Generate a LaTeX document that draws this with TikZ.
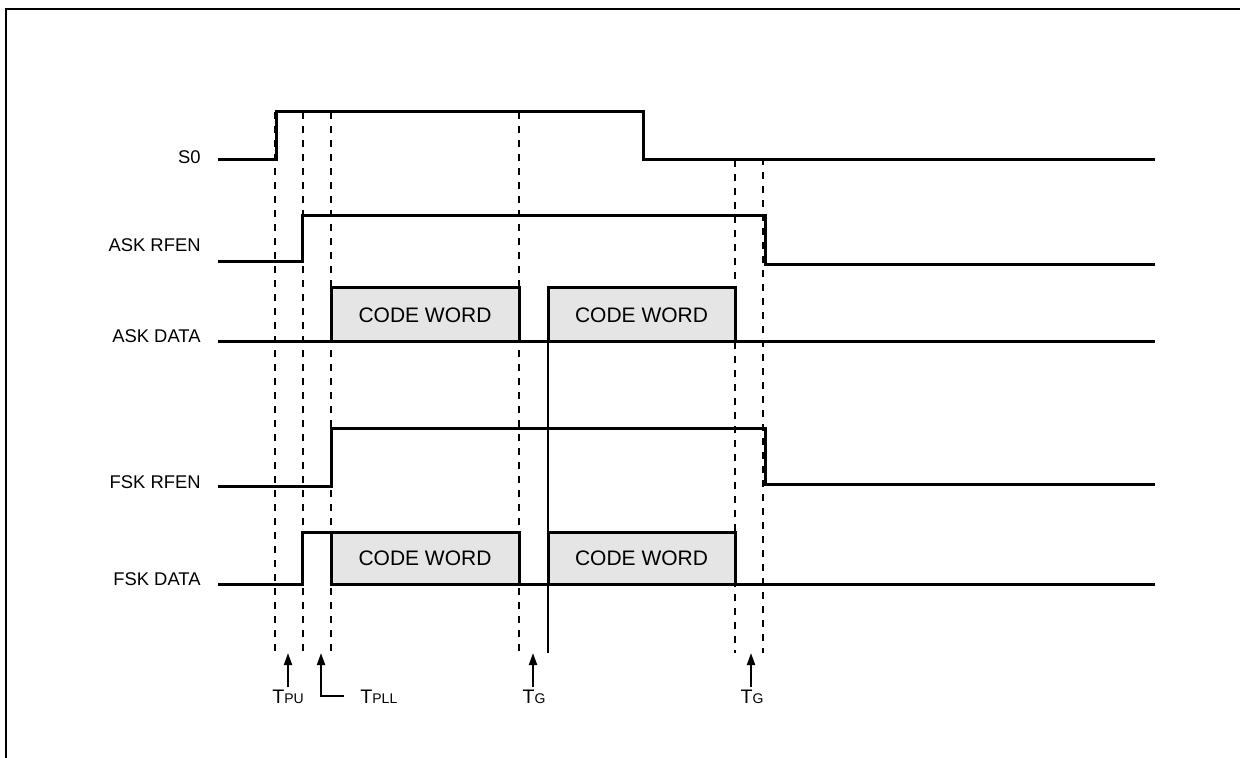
\documentclass[tikz,border=0pt]{standalone}
\usepackage{fontspec}
\setmainfont{Liberation Sans}
\usetikzlibrary{arrows.meta}
\begin{document}
\begin{tikzpicture}[x=0.5pt,y=-0.5pt,
  sig/.style={line width=1.5pt, line join=miter},
  guide/.style={line width=1pt, dash pattern=on 3.5pt off 3.5pt},
  frame/.style={line width=1pt},
  cw/.style={line width=1.5pt, fill=black!10},
  cwtext/.style={font=\fontsize{10.5}{12}\selectfont, inner sep=0pt},
  lbl/.style={font=\fontsize{9.2}{11}\selectfont, anchor=east, inner sep=0pt},
  tlbl/.style={font=\fontsize{9.8}{11}\selectfont, inner sep=0pt},
  marker/.style={line width=1pt, -{Triangle[length=6pt,width=4pt]}},
  sub/.style={}]
\useasboundingbox (0,0) rectangle (1240,758);
\draw[frame] (1240,9) -- (6,9) -- (6,758);

% signal labels
\node[lbl] (ls0) at (201,157) {S0};
\node[lbl] (laskrf) at (201,245) {ASK RFEN};
\node[lbl] (laskd) at (201,336) {ASK DATA};
\node[lbl] (lfskrf) at (201,482) {FSK RFEN};
\node[lbl] (lfskd) at (201,579) {FSK DATA};

% guides
\foreach \x/\t in {275/112, 303/112, 331/112, 519/112, 735/160, 763/158}
  \draw[guide] (\x,\t) -- (\x,653);

% S0
\draw[sig] (218,160) -- (276,160) -- (276,112) -- (643,112) -- (643,160) -- (1155,160);
% ASK RFEN
\draw[sig] (218,262) -- (302,262) -- (302,216) -- (765,216) -- (765,265) -- (1155,265);
% ASK DATA
\draw[sig] (218,342) -- (1155,342);
\draw[cw] (331,288) rectangle (519,342);
\draw[cw] (548,288) rectangle (735,342);
\node[cwtext] (acw1) at (425,315) {CODE WORD};
\node[cwtext] (acw2) at (641.5,315) {CODE WORD};
% FSK RFEN
\draw[sig] (218,486) -- (331,486) -- (331,428) -- (765,428) -- (765,484) -- (1155,484);
% FSK DATA
\draw[sig] (218,584) -- (302,584) -- (302,532) -- (331,532);
\draw[sig] (331,584) -- (1155,584);
\draw[cw] (331,532) rectangle (519,584);
\draw[cw] (548,532) rectangle (735,584);
\node[cwtext] (fcw1) at (425,558) {CODE WORD};
\node[cwtext] (fcw2) at (641.5,558) {CODE WORD};
% solid marker line
\draw[line width=1pt] (548,342) -- (548,653);

% timing labels
\node[tlbl] (tpu) at (288,697) {T{\fontsize{7}{8}\selectfont PU}};
\node[tlbl, anchor=west] (tpll) at (360,697) {T{\fontsize{7}{8}\selectfont PLL}};
\node[tlbl] (tg1) at (534,697) {T{\fontsize{7}{8}\selectfont G}};
\node[tlbl] (tg2) at (752,697) {T{\fontsize{7}{8}\selectfont G}};
\coordinate (tpuarr) at (288,653);
\coordinate (tpllarr) at (321,653);
\coordinate (tg1arr) at (533,653);
\coordinate (tg2arr) at (751,653);
\draw[marker] (288,687) -- (tpuarr);
\draw[marker] (344,696) -- (321,696) -- (tpllarr);
\draw[marker] (533,687) -- (tg1arr);
\draw[marker] (751,687) -- (tg2arr);
\end{tikzpicture}
\end{document}
